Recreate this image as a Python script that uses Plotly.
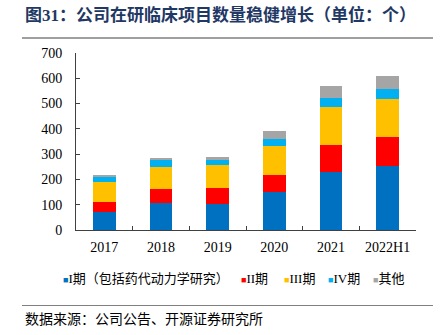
import plotly.graph_objects as go

categories = ["2017", "2018", "2019", "2020", "2021", "2022H1"]
phase1 = [71, 107, 104, 150, 231, 253]
phase2 = [38, 57, 63, 66, 107, 116]
phase3 = [79, 87, 91, 118, 149, 150]
phase4 = [24, 24, 19, 27, 36, 37]
others = [6, 9, 12, 30, 46, 53]

series_names = ["I期（包括药代动力学研究）", "II期", "III期", "IV期", "其他"]
series_values = [phase1, phase2, phase3, phase4, others]
colors = ["#0070C0", "#FF0000", "#FFC000", "#00B0F0", "#A5A5A5"]

W, H = 442, 335
ML, MR, MT, MB = 76, 26, 53, 105
PW, PH = W - ML - MR, H - MT - MB

def px(x):
    return (x - ML) / PW

def py(y):
    return (H - MB - y) / PH

SERIF = "Liberation Serif, Times New Roman, Noto Sans CJK SC"
CJK = "Liberation Serif, Noto Sans CJK SC"

fig = go.Figure()
for name, vals, col in zip(series_names, series_values, colors):
    fig.add_trace(go.Bar(x=categories, y=vals, name=name,
                         marker=dict(color=col, line=dict(width=0)),
                         showlegend=False))

fig.update_layout(
    width=W, height=H,
    margin=dict(l=ML, r=MR, t=MT, b=MB),
    barmode="stack", bargap=0.6,
    plot_bgcolor="white", paper_bgcolor="white",
    font=dict(family=SERIF, size=14, color="#000000"),
    xaxis=dict(type="category", showline=True, linecolor="#404040", linewidth=1,
               ticks="inside", ticklen=4, tickcolor="#404040", tickson="boundaries",
               showgrid=False, tickfont=dict(family=SERIF, size=14),
               ticklabelstandoff=4),
    yaxis=dict(range=[0, 700], dtick=100, showline=True, linecolor="#404040", linewidth=1,
               ticks="inside", ticklen=4, tickcolor="#404040", showgrid=False,
               zeroline=False, tickfont=dict(family=SERIF, size=14),
               ticklabelstandoff=10),
)

# title
fig.add_annotation(xref="paper", yref="paper", x=px(23), y=py(15),
                   xanchor="left", yanchor="middle", showarrow=False,
                   text="<b>图31：公司在研临床项目数量稳健增长（单位：个）</b>",
                   font=dict(family=CJK, size=17, color="#1F3864"))
# rules
fig.add_shape(type="line", xref="paper", yref="paper", x0=px(22), x1=px(433),
              y0=py(38), y1=py(38), line=dict(color="#404040", width=1.2))
fig.add_shape(type="line", xref="paper", yref="paper", x0=px(22), x1=px(433),
              y0=py(305.5), y1=py(305.5), line=dict(color="#808080", width=1))

# legend
leg_x = [61, 239, 282, 326, 371]
for name, col, lx in zip(series_names, colors, leg_x):
    fig.add_annotation(xref="paper", yref="paper", x=px(lx), y=py(278),
                       xanchor="left", yanchor="middle", showarrow=False,
                       text=f"<span style='color:{col};font-size:9px'>■</span>{name}",
                       font=dict(family=CJK, size=13, color="#000000"))

# source
fig.add_annotation(xref="paper", yref="paper", x=px(23), y=py(319),
                   xanchor="left", yanchor="middle", showarrow=False,
                   text="数据来源：公司公告、开源证券研究所",
                   font=dict(family=CJK, size=14, color="#000000"))

fig.write_html("out.html")
